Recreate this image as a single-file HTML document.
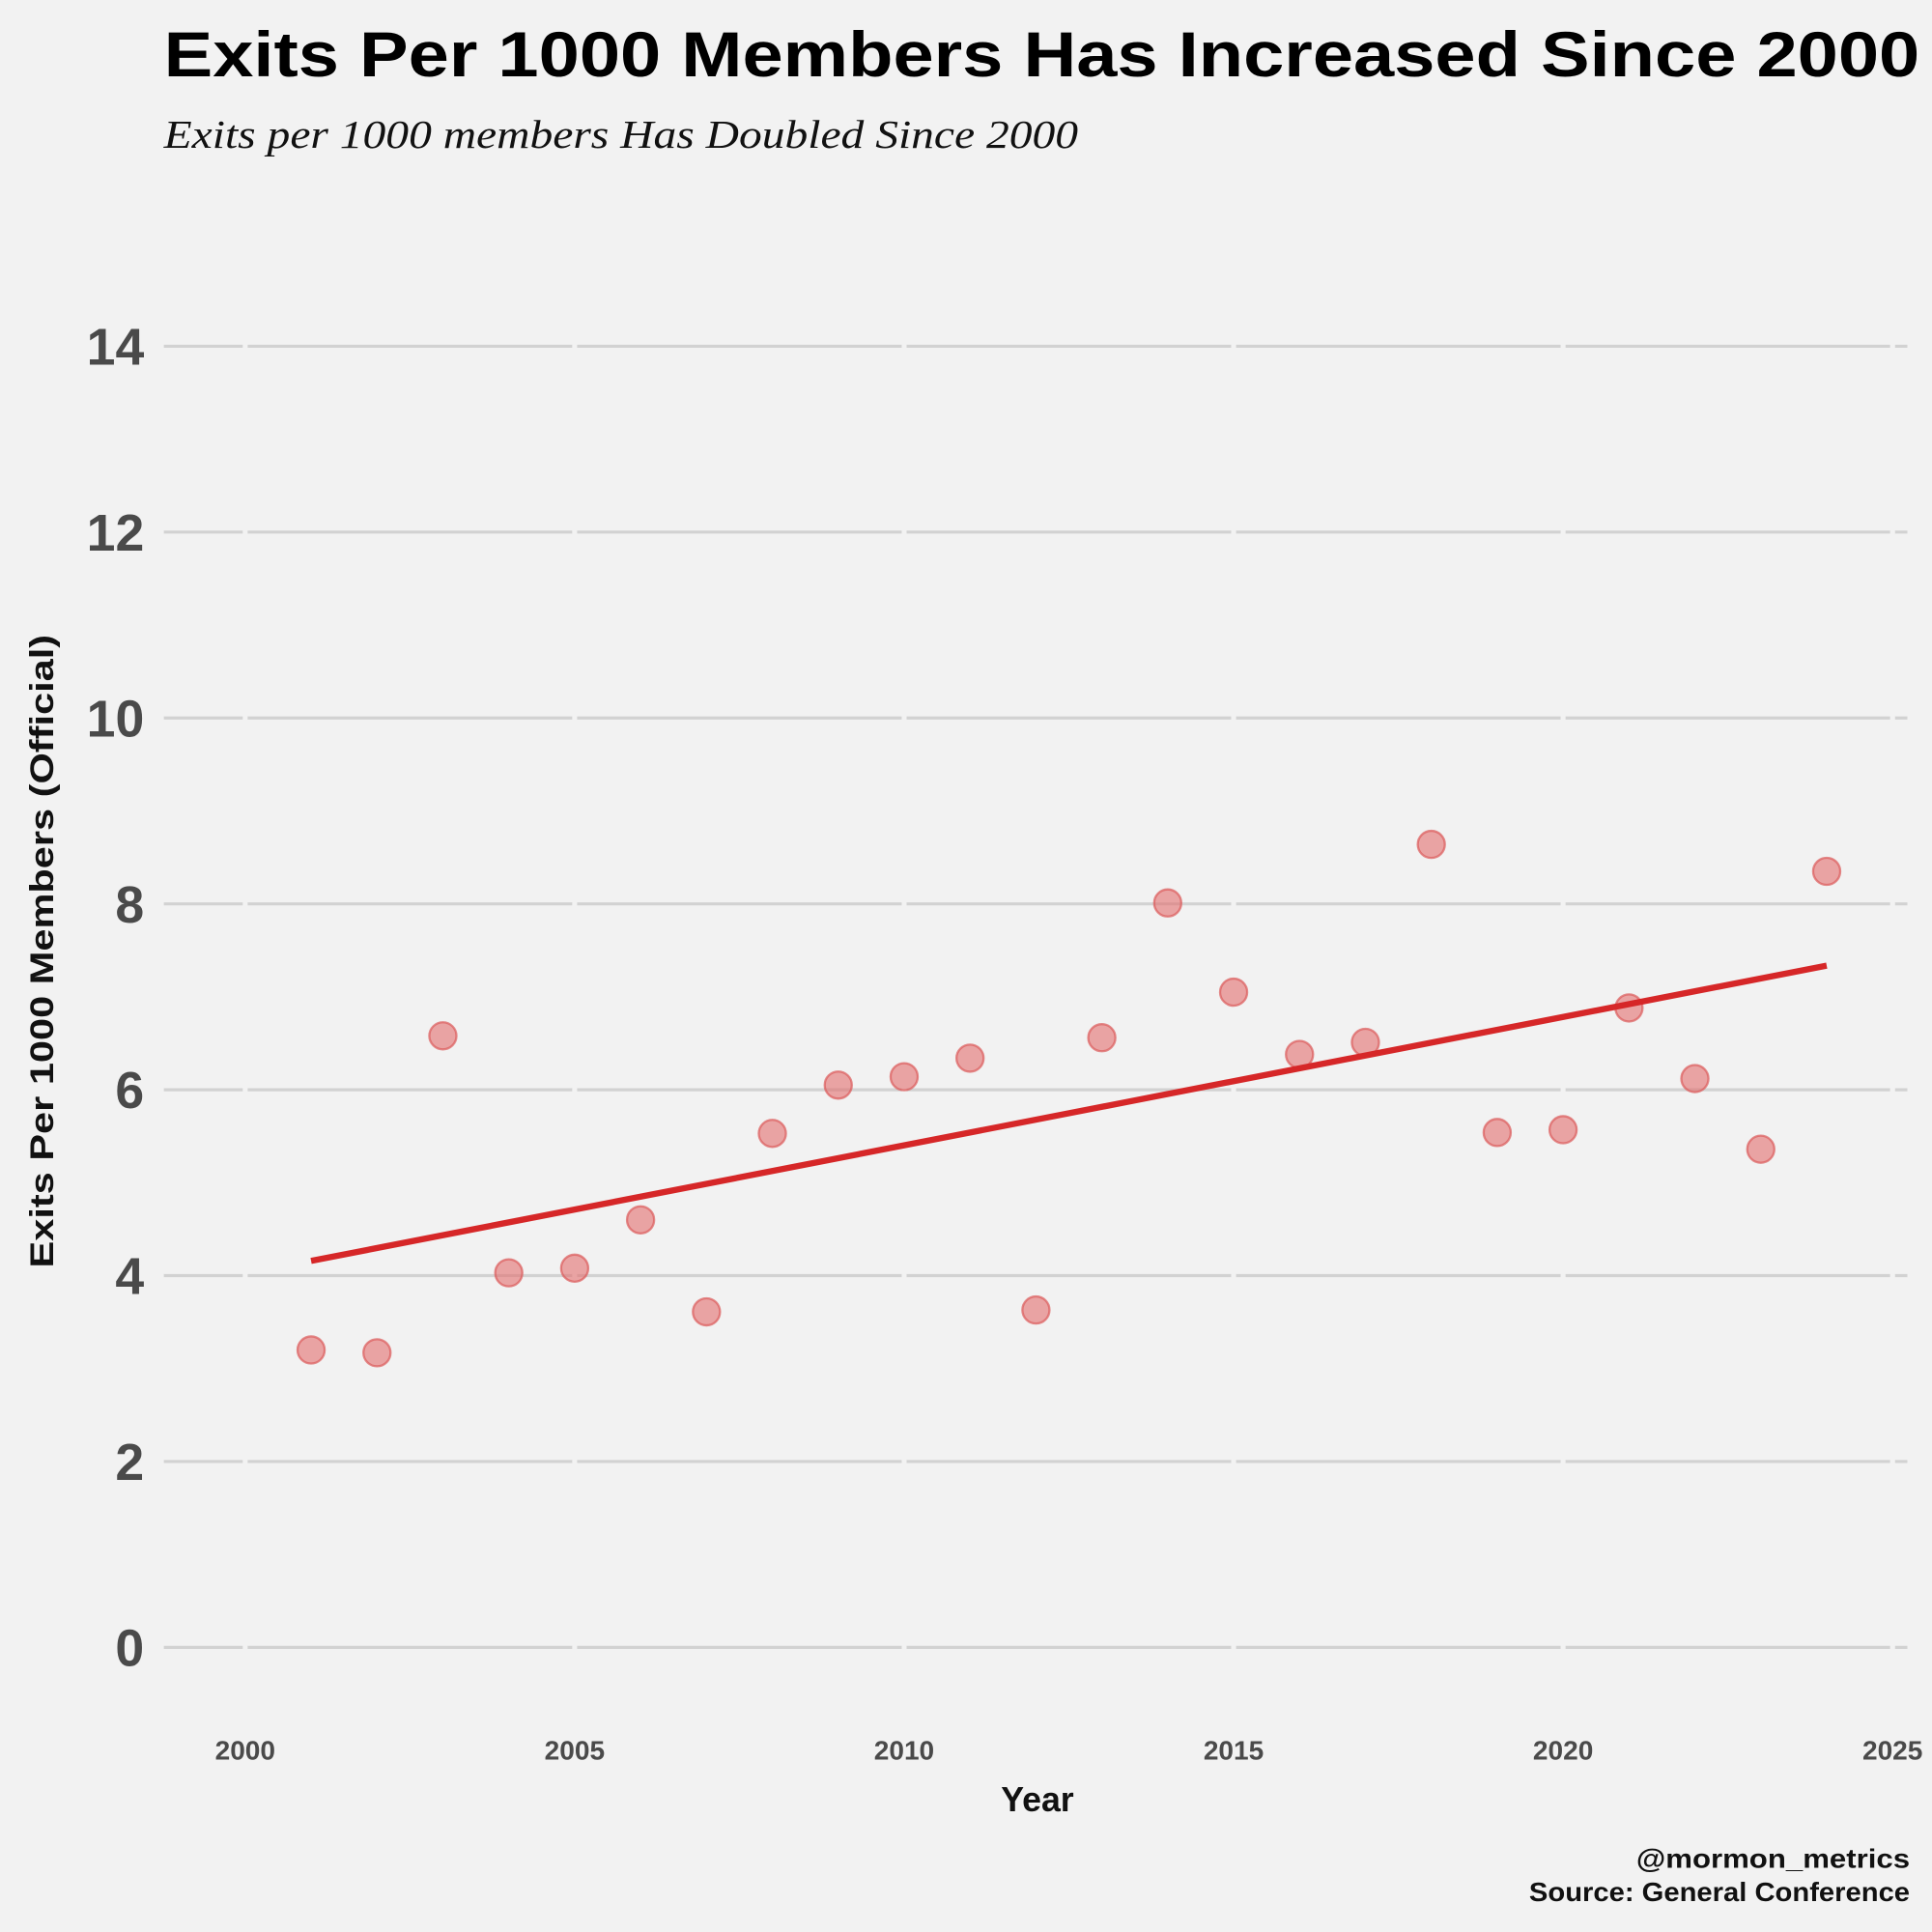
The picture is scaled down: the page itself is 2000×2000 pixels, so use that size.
<!DOCTYPE html>
<html><head><meta charset="utf-8"><style>
html,body{margin:0;padding:0;background:#f2f2f2;}
svg{display:block;}
text{font-family:"Liberation Sans","DejaVu Sans",sans-serif;}
</style></head><body>
<svg id="chart" width="2000" height="2000" viewBox="0 0 1568 1568">
<rect width="1568" height="1568" fill="#f2f2f2"/>
<text x="133" y="62" font-size="52" font-weight="bold" fill="#000" textLength="1425" lengthAdjust="spacingAndGlyphs">Exits Per 1000 Members Has Increased Since 2000</text>
<text x="133" y="120" font-size="32" font-style="italic" fill="#111" textLength="742" lengthAdjust="spacingAndGlyphs" style="font-family:'Liberation Serif',serif">Exits per 1000 members Has Doubled Since 2000</text>
<g id="grid"></g>
<g id="yticks"></g>
<g id="xticks"></g>
<g id="marks"></g>
<text transform="translate(43,772) rotate(-90)" text-anchor="middle" font-size="27" font-weight="bold" fill="#111" textLength="514" lengthAdjust="spacingAndGlyphs">Exits Per 1000 Members (Official)</text>
<text x="842" y="1470" text-anchor="middle" font-size="28" font-weight="bold" fill="#111">Year</text>
<text x="1550" y="1516" text-anchor="end" font-size="22" font-weight="bold" fill="#111" textLength="222" lengthAdjust="spacingAndGlyphs">@mormon_metrics</text>
<text x="1550" y="1543" text-anchor="end" font-size="22" font-weight="bold" fill="#111" textLength="309" lengthAdjust="spacingAndGlyphs">Source: General Conference</text>
</svg>
<script>
const years=[2001,2002,2003,2004,2005,2006,2007,2008,2009,2010,2011,2012,2013,2014,2015,2016,2017,2018,2019,2020,2021,2022,2023,2024];
const exits=[3.20,3.17,6.58,4.03,4.08,4.60,3.61,5.53,6.05,6.14,6.34,3.63,6.56,8.01,7.05,6.38,6.51,8.64,5.54,5.57,6.88,6.12,5.36,8.35];
const yTicks=[0,2,4,6,8,10,12,14];
const xTicks=[2000,2005,2010,2015,2020,2025];
const NS="http://www.w3.org/2000/svg";
const X=v=>199+(v-2000)*(1536-199)/25;
const Y=v=>1337-v*(1337-281)/14;
function mk(tag,attrs,parent,txt){const e=document.createElementNS(NS,tag);for(const k in attrs)e.setAttribute(k,attrs[k]);if(txt!==undefined)e.textContent=txt;parent.appendChild(e);return e;}
const grid=document.getElementById('grid'),yt=document.getElementById('yticks'),xt=document.getElementById('xticks'),marks=document.getElementById('marks');
yTicks.forEach(t=>{
  const l=mk('line',{x1:133,x2:1548,y1:Y(t),y2:Y(t),stroke:'#d2d2d2','stroke-width':2.5},grid);
  
  
  const tx=mk('text',{x:117,y:Y(t)+15,'text-anchor':'end','font-size':42,'font-weight':'bold',fill:'#4a4a4a'},yt,String(t));
  
  
});
xTicks.forEach(t=>{
  const l=mk('line',{x1:X(t),x2:X(t),y1:250,y2:1360,stroke:'#f2f2f2','stroke-width':4},grid);
  
  
  const tx=mk('text',{x:X(t),y:1428,'text-anchor':'middle','font-size':22,'font-weight':'bold',fill:'#4a4a4a'},xt,String(t));
  
  
});
const n=years.length;let mx=0,my=0;years.forEach((x,i)=>{mx+=x;my+=exits[i];});mx/=n;my/=n;
let sxy=0,sxx=0;years.forEach((x,i)=>{sxy+=(x-mx)*(exits[i]-my);sxx+=(x-mx)*(x-mx);});
const b=sxy/sxx,a=my-b*mx;
const x0=years[0],x1=years[n-1];
years.forEach((yr,i)=>{
  const c=mk('circle',{cx:X(yr),cy:Y(exits[i]),r:11,fill:'rgba(226,110,110,0.6)',stroke:'rgba(220,90,90,0.7)','stroke-width':1.8},marks);
  
  
});
const tl=mk('line',{x1:X(x0),y1:Y(a+b*x0),x2:X(x1),y2:Y(a+b*x1),stroke:'#d62728','stroke-width':5},marks);


</script>
</body></html>
